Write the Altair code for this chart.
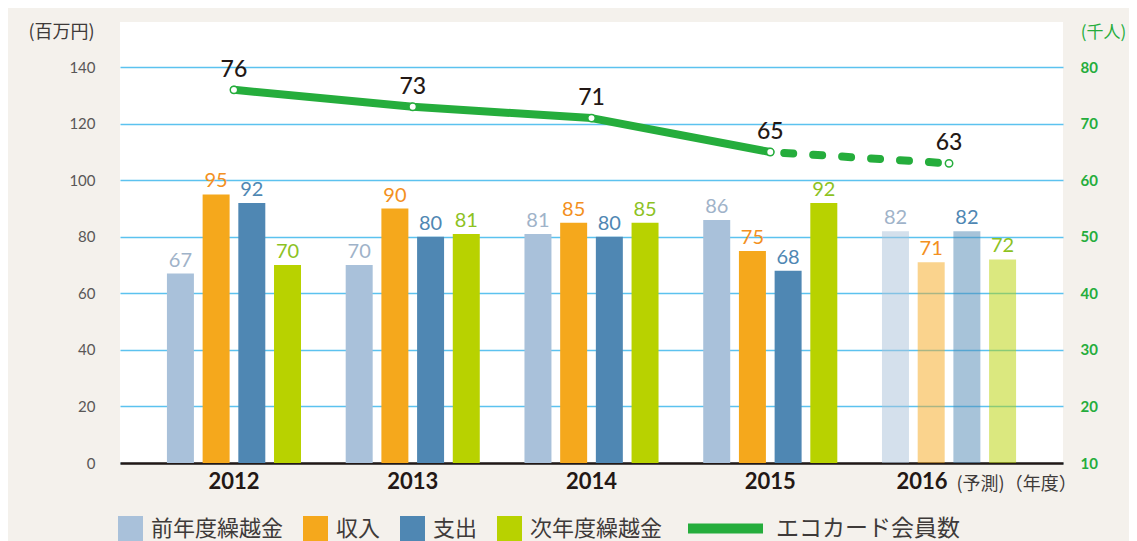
import altair as alt
import pandas as pd

years = ["2012", "2013", "2014", "2015", "2016"]
series = ["前年度繰越金", "収入", "支出", "次年度繰越金"]
prev_carry = [67, 70, 81, 86, 82]
income = [95, 90, 85, 75, 71]
expense = [92, 80, 80, 68, 82]
next_carry = [70, 81, 85, 92, 72]
members = [76, 73, 71, 65, 63]
member_name = "エコカード会員数"
left_ticks = [0, 20, 40, 60, 80, 100, 120, 140]
right_ticks = [10, 20, 30, 40, 50, 60, 70, 80]

bar_fill = ["#a9c1da", "#f5a81c", "#4f87b3", "#b8d200"]
label_col = ["#9fb3c9", "#f39021", "#4f87b3", "#8dc21f"]
green = "#25ad3c"
FONT = "Lato, Noto Sans CJK JP"
JFONT = "Noto Sans CJK JP"

rows = []
for vals, s in zip([prev_carry, income, expense, next_carry], series):
    for y, v in zip(years, vals):
        rows.append({"year": y, "series": s, "value": v})
bars_df = pd.DataFrame(rows)

line_df = pd.DataFrame({"year": years, "members": members, "name": [member_name] * len(years)})
solid_df = line_df.iloc[:4]
dash_df = line_df.iloc[3:]

W, H = 943, 441

xscale = alt.Scale(domain=years, paddingInner=0, paddingOuter=0.1375)
x_axis = alt.Axis(
    title="(予測)（年度）", titleX=836, titleY=21, titleAlign="left", titleBaseline="middle",
    titleAngle=0, titleFont=JFONT, titleFontSize=18, titleFontWeight="normal", titleColor="#3e3a39",
    labelFont=FONT, labelFontSize=22, labelFontWeight="bold", labelColor="#231815",
    labelPadding=8, labelAngle=0,
    labelOffset={"condition": {"test": "datum.value == '2016'", "value": -27}, "value": 0},
    domainColor="#231815", domainWidth=2.5, ticks=False, grid=False,
)
X = alt.X("year:N", scale=xscale, axis=x_axis)

yl_scale = alt.Scale(domain=[0, 156], nice=False, zero=True)
yr_scale = alt.Scale(domain=[10, 88], nice=False, zero=False)

yl_axis = alt.Axis(
    orient="left", values=left_ticks, title="(百万円)", titleAngle=0, titleX=-59, titleY=10,
    titleAlign="center", titleBaseline="middle", titleFont=JFONT, titleFontSize=18,
    titleFontWeight="normal", titleColor="#3e3a39",
    labelFont=FONT, labelFontSize=15, labelColor="#595757", labelPadding=25,
    domain=False, ticks=False, grid=True, gridColor="#5cc2ef", gridWidth=1.5,
)
yr_axis = alt.Axis(
    orient="right", values=right_ticks, title="(千人)", titleAngle=0, titleX=40, titleY=10,
    titleAlign="center", titleBaseline="middle", titleFont=JFONT, titleFontSize=17,
    titleFontWeight="normal", titleColor=green,
    labelFont=FONT, labelFontSize=15, labelColor=green, labelFontWeight="bold", labelPadding=17,
    domain=False, ticks=False, grid=False,
)
YL = alt.Y("value:Q", scale=yl_scale, axis=yl_axis)
YR = alt.Y("members:Q", scale=yr_scale, axis=yr_axis)

offset = alt.XOffset("series:N", scale=alt.Scale(domain=series, paddingInner=0.244, paddingOuter=0.626))

bars = alt.Chart(bars_df).mark_bar().encode(
    x=X,
    xOffset=offset,
    y=YL,
    fill=alt.Fill("series:N", scale=alt.Scale(domain=series, range=bar_fill),
                  legend=alt.Legend(
                      orient="none", legendX=-2, legendY=494, direction="horizontal", title=None,
                      symbolType="square", symbolSize=625,
                      symbolStrokeWidth=0, symbolOpacity=1,
                      labelFont=JFONT, labelFontSize=22, labelColor="#3e3a39", labelOffset=8,
                      columnPadding=19, columns=4, labelLimit=300,
                  )),
    opacity=alt.condition("datum.year == '2016'", alt.value(0.5), alt.value(1)),
)

bar_text = alt.Chart(bars_df).mark_text(baseline="bottom", dy=-3, font=FONT, fontSize=20).encode(
    x=X,
    xOffset=offset,
    y=YL,
    text="value:Q",
    color=alt.Color("series:N", scale=alt.Scale(domain=series, range=label_col), legend=None),
)

left = alt.layer(bars, bar_text)

solid = alt.Chart(solid_df).mark_line(strokeWidth=8, strokeCap="round", strokeJoin="round").encode(
    x=X,
    y=YR,
    stroke=alt.Stroke("name:N", scale=alt.Scale(domain=[member_name], range=[green]),
                      legend=alt.Legend(
                          orient="none", legendX=563, legendY=464, title=None,
                          symbolType="stroke", symbolSize=5625, symbolStrokeWidth=10,
                          labelFont=JFONT, labelFontSize=23, labelColor="#3e3a39", labelOffset=8,
                          labelLimit=400,
                      )),
)
dashed = alt.Chart(dash_df).mark_line(
    strokeWidth=8, strokeCap="round", strokeDash=[9, 20], strokeDashOffset=-14, color=green
).encode(
    x=X,
    y=YR,
)
points = alt.Chart(line_df).mark_point(
    filled=True, fill="white", stroke=green, strokeWidth=1.5, size=55, opacity=1, shape="circle"
).encode(
    x=X,
    y=YR,
)
line_text = alt.Chart(line_df).mark_text(
    baseline="middle", dy=-20, font=FONT, fontSize=23, fontWeight=500, color="#231815"
).encode(
    x=X,
    y=YR,
    text="members:Q",
)

right = alt.layer(solid, dashed, points, line_text)

chart = alt.layer(left, right).resolve_scale(y="independent", color="independent").properties(
    width=W, height=H,
    autosize=alt.AutoSizeParams(type="none"),
    padding={"left": 112, "top": 14, "right": 66, "bottom": 80},
    background="#f4f1ec",
).configure_view(fill="white", stroke=None)

chart.save("out.html", embed_options={"renderer": "svg", "actions": False})
